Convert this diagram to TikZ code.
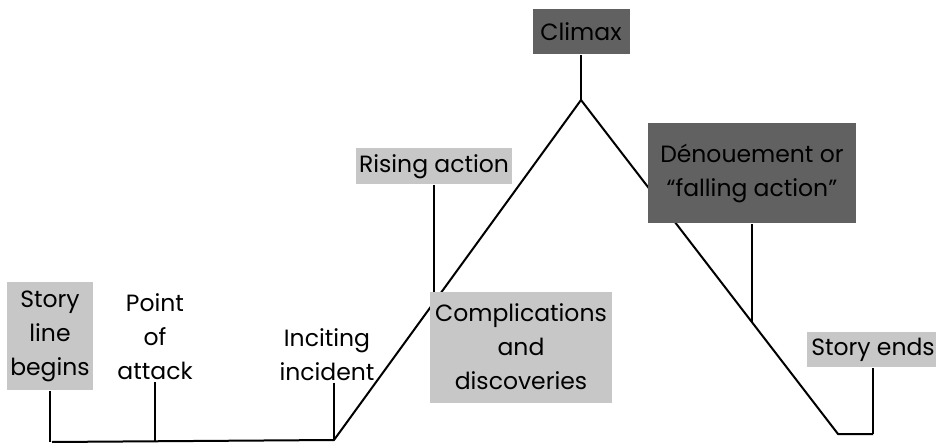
\documentclass[tikz,border=0pt]{standalone}
\usepackage{fontspec}
\setmainfont{Poppins}
\usetikzlibrary{calc,positioning}

\begin{document}
\begin{tikzpicture}[x=1pt,y=-1pt,line width=2pt,line join=miter,
  font=\fontsize{23.5}{34}\selectfont,
  lightbox/.style={fill=black!22,inner sep=1pt,align=center},
  darkbox/.style={fill=black!62,inner sep=1pt,align=center},
  plainbox/.style={inner sep=1pt,align=center}]
  \useasboundingbox (0,0) rectangle (936,446);
  % story line
  \coordinate (begin) at (52,442);
  \coordinate (incite) at (334,440);
  \coordinate (apex) at (581,100);
  \coordinate (bottom) at (838,434);
  \coordinate (ends) at (873,434);
  \coordinate (rise) at ($(incite)!0.405!(apex)$);
  \coordinate (fall) at ($(apex)!0.665!(bottom)$);
  \draw (begin) -- (incite) -- (apex) -- (bottom) -- (ends);
  % labels along the base line
  \node[lightbox,minimum width=86pt,minimum height=108pt] (sbegin) at (50,336) {Story\\line\\begins};
  \node[plainbox] (pattack) at (155,337) {Point\\of\\attack};
  \node[plainbox] (pincite) at (327,355) {Inciting\\incident};
  \coordinate (attack) at (pattack.south |- begin);
  \draw (sbegin.south) -- (sbegin.south |- begin);
  \draw (pattack.south) -- (attack);
  \draw (pincite.south -| incite) -- (incite);
  % rising side
  \node[lightbox,minimum width=156pt,minimum height=36pt,above=117pt of rise,anchor=south] (rising) {Rising action};
  \draw (rising.south) -- (rise);
  \node[lightbox,minimum width=182pt,minimum height=111pt] (compl) at (521,347) {Complications\\and\\discoveries};
  % climax
  \node[darkbox,minimum width=97pt,minimum height=45pt,above=45pt of apex,anchor=south] (climax) {Climax};
  \draw (climax.south) -- (apex);
  % falling side
  \node[darkbox,minimum width=208pt,minimum height=100pt,above=98pt of fall,anchor=south] (denoue) {Dénouement or\\“falling action”};
  \draw (denoue.south) -- (fall);
  \node[lightbox,minimum width=133pt,minimum height=35pt,above=66pt of ends,anchor=south] (sends) {Story ends};
  \draw (sends.south) -- (ends);
\end{tikzpicture}
\end{document}
